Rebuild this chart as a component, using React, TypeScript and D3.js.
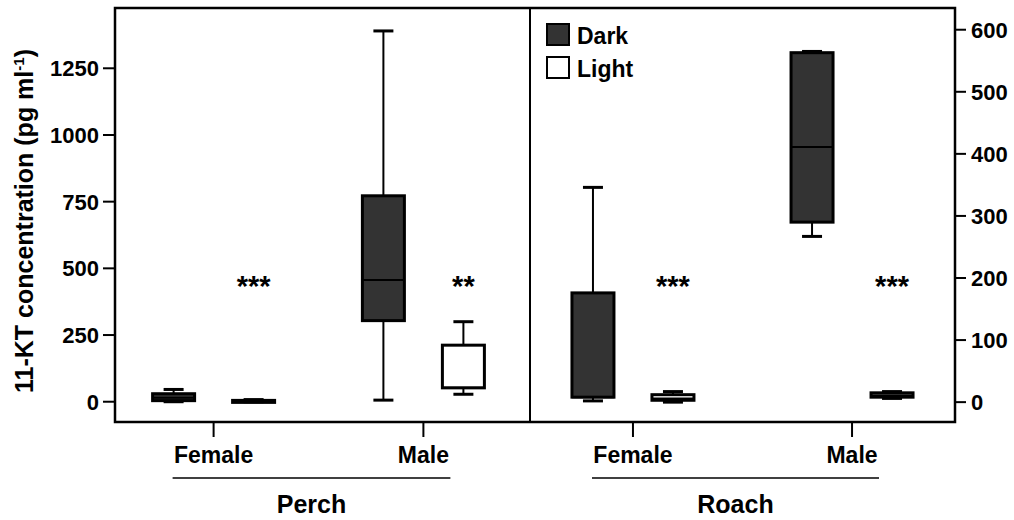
import * as d3 from "d3";

// groups
const species = ["Perch", "Roach"];
const sexes = ["Female", "Male"];
const lights = ["Dark", "Light"];

// box stats per sex: [low whisker, q1, median, q3, high whisker]
const perchDark = [
  [0, 4, 15, 30, 46],
  [6, 304, 456, 772, 1390],
];
const perchLight = [
  [0, 1, 3, 5, 8],
  [28, 52, 52, 212, 300],
];
const roachDark = [
  [2, 8, 8, 176, 346],
  [267, 290, 411, 563, 565],
];
const roachLight = [
  [0, 3, 6, 12, 17],
  [6, 8, 11, 15, 17],
];
const significance = [
  ["***", "**"],
  ["***", "***"],
];

const leftTicks = [0, 250, 500, 750, 1000, 1250];
const rightTicks = [0, 100, 200, 300, 400, 500, 600];

const W = 1014;
const H = 520;
const top = 8;
const bottom = 422;
const left = 115;
const mid = 530;
const right = 955;
const font = "'Liberation Sans', Arial, Helvetica, sans-serif";
const darkFill = "#333333";

const yLeft = d3.scaleLinear().domain([-76, 1476]).range([bottom, top]);
const yRight = d3.scaleLinear().domain([-32, 635]).range([bottom, top]);

const panels = [
  { name: species[0], dark: perchDark, light: perchLight, y: yLeft, x: d3.scalePoint().domain(sexes).range([left, mid - 8]).padding(0.47) },
  { name: species[1], dark: roachDark, light: roachLight, y: yRight, x: d3.scalePoint().domain(sexes).range([mid, right]).padding(0.47) },
];

const offset = d3.scalePoint().domain(lights).range([-40, 40]);
const boxW = 42;
const capW = 20;

function Box({ cx, s, y, fill }) {
  const [lo, q1, med, q3, hi] = s;
  return (
    <g stroke="#000" strokeWidth={2}>
      <line x1={cx} x2={cx} y1={y(q3)} y2={y(hi)} />
      <line x1={cx} x2={cx} y1={y(q1)} y2={y(lo)} />
      <line x1={cx - capW / 2} x2={cx + capW / 2} y1={y(hi)} y2={y(hi)} strokeWidth={3} />
      <line x1={cx - capW / 2} x2={cx + capW / 2} y1={y(lo)} y2={y(lo)} strokeWidth={3} />
      <rect x={cx - boxW / 2} y={y(q3)} width={boxW} height={Math.max(y(q1) - y(q3), 2)} fill={fill} strokeWidth={3} />
      <line x1={cx - boxW / 2} x2={cx + boxW / 2} y1={y(med)} y2={y(med)} />
    </g>
  );
}

export default function App() {
  return (
    <svg width={W} height={H} style={{ display: "block", position: "absolute", left: 0, top: 0 }} fontFamily={font} fontWeight="bold">
      <rect width={W} height={H} fill="#fff" />

      {/* y title */}
      <text transform={`translate(33,${(top + bottom) / 2 + 6}) rotate(-90)`} textAnchor="middle" fontSize={25}>
        11-KT concentration (pg ml
        <tspan fontSize={15} dy={-9}>-1</tspan>
        <tspan dy={9}>)</tspan>
      </text>

      {/* left axis */}
      {leftTicks.map((t) => (
        <g key={"l" + t}>
          <line x1={left - 12} x2={left} y1={yLeft(t)} y2={yLeft(t)} stroke="#000" strokeWidth={2} />
          <text x={left - 16} y={yLeft(t)} dy="0.36em" textAnchor="end" fontSize={22}>{t}</text>
        </g>
      ))}

      {/* right axis */}
      {rightTicks.map((t) => (
        <g key={"r" + t}>
          <line x1={right} x2={right + 11} y1={yRight(t)} y2={yRight(t)} stroke="#000" strokeWidth={2} />
          <text x={right + 16} y={yRight(t)} dy="0.36em" textAnchor="start" fontSize={22}>{t}</text>
        </g>
      ))}

      {panels.map((p, pi) => {
        const xs = sexes.map((s) => p.x(s));
        const lineL = xs[0] - 41;
        const lineR = xs[1] + 27;
        return (
          <g key={p.name}>
            {sexes.map((s, si) => {
              const cx = p.x(s);
              return (
                <g key={s}>
                  <Box cx={cx + offset("Dark")} s={p.dark[si]} y={p.y} fill={darkFill} />
                  <Box cx={cx + offset("Light")} s={p.light[si]} y={p.y} fill="#fff" />
                  <text x={cx + offset("Light")} y={yLeft(398)} textAnchor="middle" fontSize={29}>
                    {significance[pi][si]}
                  </text>
                  <line x1={cx} x2={cx} y1={bottom} y2={bottom + 15} stroke="#000" strokeWidth={2} />
                  <text x={cx} y={463} textAnchor="middle" fontSize={23}>{s}</text>
                </g>
              );
            })}
            <line x1={lineL} x2={lineR} y1={478} y2={478} stroke="#000" strokeWidth={1.5} />
            <text x={(lineL + lineR) / 2} y={513} textAnchor="middle" fontSize={25}>{p.name}</text>
          </g>
        );
      })}

      {/* frame */}
      <rect x={left} y={top} width={right - left} height={bottom - top} fill="none" stroke="#000" strokeWidth={2.5} />
      <line x1={mid} x2={mid} y1={top} y2={bottom} stroke="#000" strokeWidth={2} />

      {/* legend */}
      {lights.map((l, i) => (
        <g key={l} transform={`translate(547,${24 + i * 33})`}>
          <rect width={22} height={21} fill={l === "Dark" ? darkFill : "#fff"} stroke="#000" strokeWidth={2} />
          <text x={30} y={20} fontSize={23}>{l}</text>
        </g>
      ))}
    </svg>
  );
}
